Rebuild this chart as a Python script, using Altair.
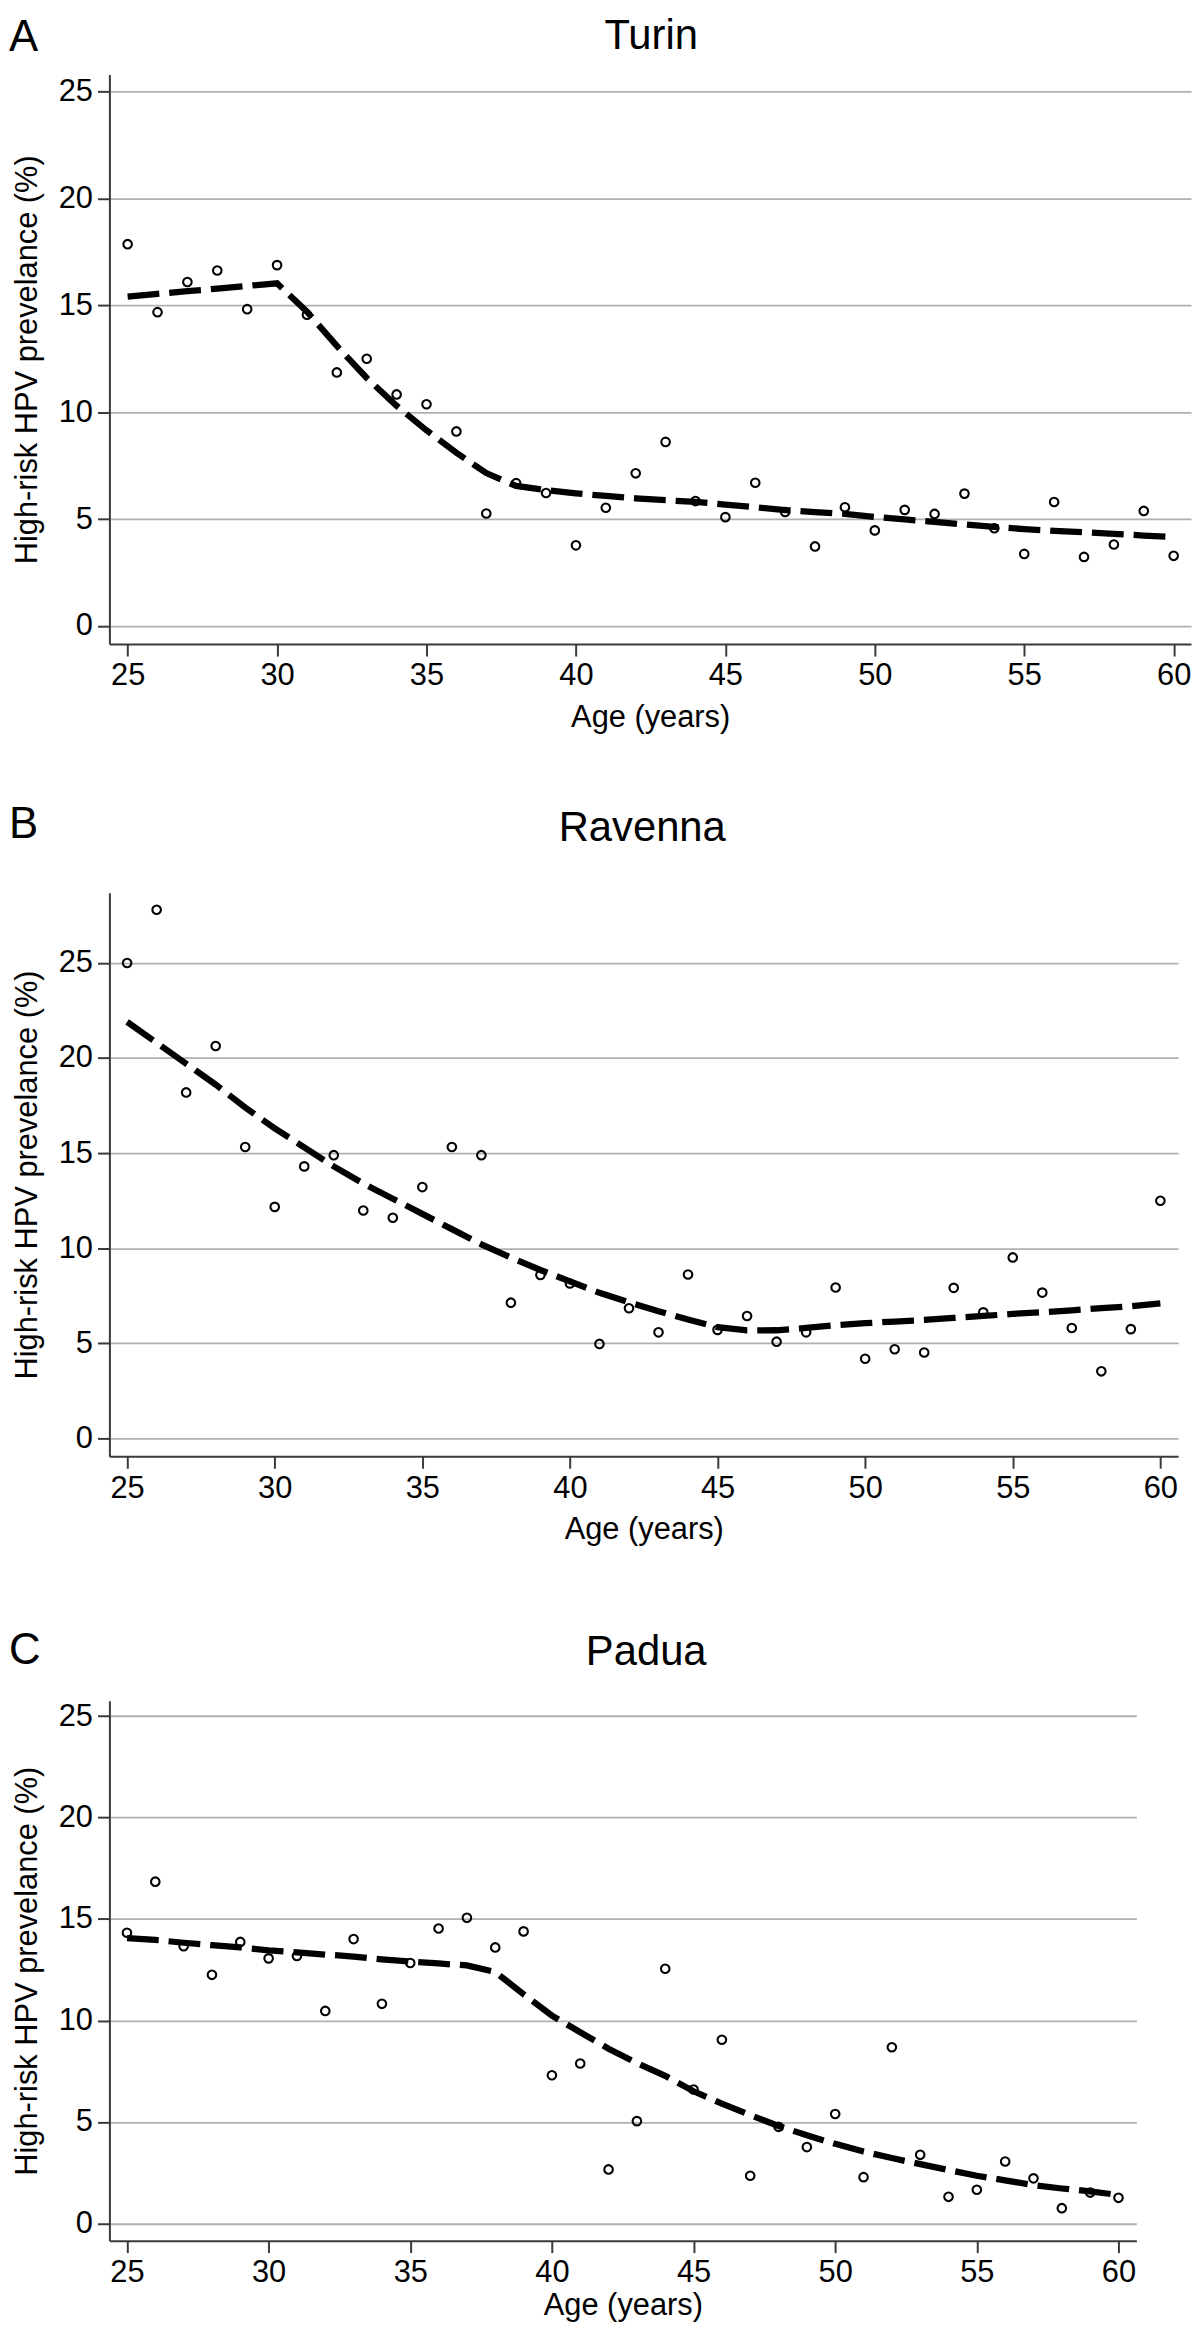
import altair as alt
import pandas as pd

FONT = "Liberation Sans"

ages = list(range(25, 61))
x_ticks = [25, 30, 35, 40, 45, 50, 55, 60]
y_ticks = [0, 5, 10, 15, 20, 25]

turin_obs = [17.86, 14.68, 16.09, 16.63, 14.82, 16.88, 14.56, 11.86, 12.5, 10.83,
             10.37, 9.1, 5.26, 6.68, 6.22, 3.77, 5.53, 7.14, 8.61, 5.84,
             5.09, 6.70, 5.33, 3.72, 5.55, 4.47, 5.43, 5.24, 6.19, 4.57,
             3.37, 5.80, 3.23, 3.81, 5.38, 3.28]
turin_fit = [15.41, 15.54, 15.66, 15.78, 15.91, 16.03, 14.7, 13.1, 11.6, 10.3,
             9.15, 8.1, 7.15, 6.55, 6.35, 6.2, 6.08, 5.97, 5.88, 5.8,
             5.68, 5.55, 5.42, 5.33, 5.24, 5.1, 4.98, 4.87, 4.75, 4.63,
             4.53, 4.45, 4.38, 4.31, 4.23, 4.16]

ravenna_obs = [25.0, 27.8, 18.19, 20.63, 15.32, 12.17, 14.30, 14.89, 11.98, 11.60,
               13.21, 15.32, 14.89, 7.13, 8.59, 8.14, 4.96, 6.84, 5.57, 8.61,
               5.70, 6.43, 5.08, 5.57, 7.93, 4.18, 4.68, 4.51, 7.91, 6.62,
               9.51, 7.66, 5.80, 3.52, 5.74, 12.49]
ravenna_fit = [21.9, 20.8, 19.7, 18.6, 17.4, 16.3, 15.3, 14.3, 13.4, 12.6,
               11.8, 11.0, 10.2, 9.5, 8.85, 8.25, 7.65, 7.15, 6.68, 6.25,
               5.84, 5.67, 5.68, 5.80, 5.95, 6.05, 6.14, 6.22, 6.33, 6.43,
               6.54, 6.63, 6.73, 6.84, 6.94, 7.09]

padua_obs = [14.32, 16.84, 13.66, 12.25, 13.87, 13.06, 13.18, 10.47, 14.01, 10.82,
             12.83, 14.53, 15.06, 13.60, 14.39, 7.30, 7.88, 2.66, 5.04, 12.55,
             6.60, 9.05, 2.35, 4.76, 3.76, 5.39, 2.28, 8.68, 3.38, 1.31,
             1.66, 3.05, 2.22, 0.75, 1.52, 1.26]
padua_fit = [14.06, 13.97, 13.83, 13.71, 13.60, 13.46, 13.36, 13.25, 13.15, 13.01,
             12.90, 12.81, 12.71, 12.39, 11.29, 10.24, 9.42, 8.61, 7.9, 7.27,
             6.51, 5.90, 5.34, 4.80, 4.34, 3.92, 3.54, 3.22, 2.92, 2.63,
             2.35, 2.12, 1.89, 1.72, 1.58, 1.40]

Y_TITLE = "High-risk HPV prevelance (%)"
X_TITLE = "Age (years)"


def panel(letter, city, obs, fit, width, height, xdom, ydom,
          title_x, title_base, letter_base, x_title_pad, spacer=None):
    df_obs = pd.DataFrame({"age": ages, "prev": obs})
    df_fit = pd.DataFrame({"age": ages, "prev": fit})
    x = alt.X("age:Q",
              scale=alt.Scale(domain=xdom, nice=False, zero=False),
              axis=alt.Axis(values=x_ticks, title=X_TITLE, grid=False,
                            labelFlush=False, labelOverlap=False,
                            labelPadding=5, titlePadding=x_title_pad))
    y = alt.Y("prev:Q",
              scale=alt.Scale(domain=ydom, nice=False, zero=False),
              axis=alt.Axis(values=y_ticks, title=Y_TITLE, grid=True,
                            labelOverlap=False, labelPadding=5,
                            titlePadding=15))
    pts = alt.Chart(df_obs).mark_point(
        shape="circle", filled=False, size=74, strokeWidth=2.1,
        color="black", opacity=1
    ).encode(x=x, y=y)
    line = alt.Chart(df_fit).mark_line(
        color="black", strokeWidth=6.3, strokeDash=[32, 10], strokeCap="butt"
    ).encode(x=x, y=y)
    title = alt.Chart(pd.DataFrame({"t": [city]})).mark_text(
        font=FONT, fontSize=42, align="center", baseline="alphabetic", color="black"
    ).encode(text="t:N", x=alt.value(title_x), y=alt.value(title_base))
    lab = alt.Chart(pd.DataFrame({"t": [letter]})).mark_text(
        font=FONT, fontSize=44, align="left", baseline="alphabetic", color="black"
    ).encode(text="t:N", x=alt.value(-101), y=alt.value(letter_base))
    layers = [pts, line, title, lab]
    if spacer is not None:
        sp = alt.Chart(pd.DataFrame({"t": [0]})).mark_rule(
            strokeOpacity=0, opacity=0
        ).encode(x=alt.value(0), x2=alt.value(2), y=alt.value(spacer), y2=alt.value(spacer + 5))
        layers.append(sp)
    return alt.layer(*layers).properties(width=width, height=height)


pA = panel("A", "Turin", turin_obs, turin_fit, 1088, 573,
           [24.39, 60.58], [-0.85, 25.8], 545, -25.5, -24, 12)
pB = panel("B", "Ravenna", ravenna_obs, ravenna_fit, 1075, 567,
           [24.4, 60.6], [-0.95, 28.7], 536, -51.5, -55.4, 12)
pC = panel("C", "Padua", padua_obs, padua_fit, 1033, 543,
           [24.38, 60.63], [-0.85, 25.75], 540, -36.3, -36.9, 3, spacer=-86.2)

chart = alt.vconcat(pA, pB, pC, spacing=69).properties(
    padding=0
).configure_view(
    stroke="transparent"
).configure_axis(
    labelFont=FONT, titleFont=FONT, labelFontSize=31, titleFontSize=31,
    labelColor="black", titleColor="black", titleFontWeight="normal",
    tickSize=12, tickWidth=2, tickColor="#3a3a3a",
    domainColor="#3a3a3a", domainWidth=2,
    gridColor="#b0b0b0", gridWidth=1.8
)

chart.save("out.html", embed_options={"renderer": "svg", "actions": False})
